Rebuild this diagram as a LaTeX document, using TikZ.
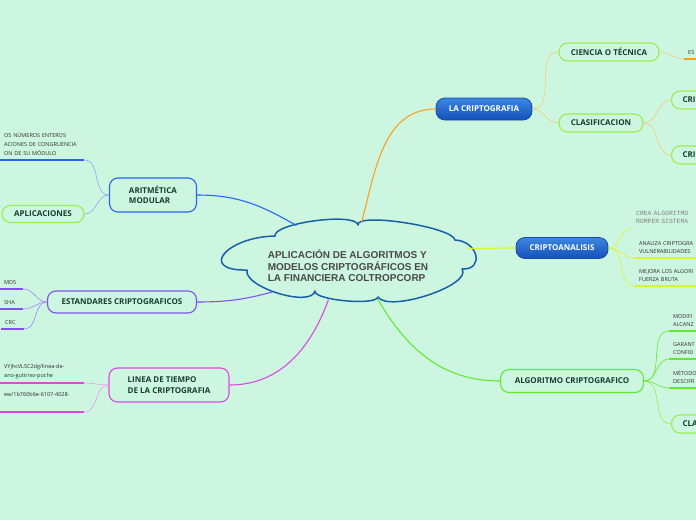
\documentclass[tikz,border=0pt]{standalone}
\usepackage{fontspec}
\setmainfont{Open Sans}
\newfontfamily\titlefont{Liberation Sans}
\newfontfamily\codefont{Liberation Mono}
\definecolor{MintBg}{RGB}{205,246,225}
\definecolor{CloudBlue}{RGB}{25,95,170}
\definecolor{TitleGray}{RGB}{72,72,72}
\definecolor{DeepTeal}{RGB}{18,62,48}
\definecolor{LeafText}{RGB}{45,45,45}
\definecolor{BlueTop}{RGB}{60,135,225}
\definecolor{BlueBottom}{RGB}{20,80,185}
\definecolor{BlueEdge}{RGB}{20,75,170}
\definecolor{LimeEdge}{RGB}{150,240,75}
\definecolor{CryptOrange}{RGB}{250,160,30}
\definecolor{PaleOrange}{RGB}{245,200,125}
\definecolor{AnaYellow}{RGB}{220,245,40}
\definecolor{AlgGreen}{RGB}{95,235,45}
\definecolor{ModBlue}{RGB}{40,100,245}
\definecolor{StdPurple}{RGB}{130,80,240}
\definecolor{TimeMagenta}{RGB}{225,70,225}
\usepackage{tikz}
\usetikzlibrary{shapes.geometric, positioning}

\begin{document}
\begin{tikzpicture}[x=1pt, y=-1pt,
	mainline/.style={line width=1.1pt},
	twig/.style={line width=0.6pt, out=0, in=180},
	twigback/.style={line width=0.6pt, out=180, in=0},
	uline/.style={line width=1.6pt},
	puffline/.style={draw=CloudBlue, line width=1.5pt, line join=round},
	topicbox/.style={draw, rounded corners=8.5pt, line width=1.1pt, fill=MintBg,
		text=DeepTeal, font=\fontsize{8}{10.5}\selectfont\bfseries, inner sep=0pt},
	bluebox/.style={draw=BlueEdge, rounded corners=9pt, line width=0.8pt,
		top color=BlueTop, bottom color=BlueBottom, text=white,
		font=\fontsize{8}{10}\selectfont\bfseries, inner sep=0pt},
	leaf/.style={anchor=south west, align=left, inner xsep=4pt, inner ysep=4pt,
		font=\fontsize{5.5}{8.5}\selectfont, text=LeafText}]
	\useasboundingbox (0,0) rectangle (696,520);
	\clip (0,0) rectangle (696,520);
	\fill[MintBg] (0,0) rectangle (696,520);

	\node[ellipse, minimum width=250, minimum height=78] (core) at (349,261) {};
	\path[puffline] (275,236) .. controls (273,223) and (356,212) .. (358,225)
		.. controls (356,212) and (453,227) .. (455,240)
		.. controls (478,241) and (485,270) .. (462,269)
		.. controls (473,285) and (389,313) .. (378,297)
		.. controls (376,306) and (313,300) .. (315,291)
		.. controls (311,308) and (243,287) .. (247,270)
		.. controls (198,271) and (226,237) .. cycle;
	\node[font=\titlefont\fontsize{10}{11.5}\selectfont\bfseries, text=TitleGray,
		align=left] (title) at (348,266)
		{APLICACIÓN DE ALGORITMOS Y\\MODELOS CRIPTOGRÁFICOS EN\\LA FINANCIERA COLTROPCORP};

	\node[bluebox, minimum width=96, minimum height=22] (crypt) at (484,109) {LA CRIPTOGRAFIA};
	\node[topicbox, draw=LimeEdge, minimum width=100, minimum height=18] (science) at (609,52) {CIENCIA O TÉCNICA};
	\node[topicbox, draw=LimeEdge, minimum width=84, minimum height=18] (classes) at (601,123) {CLASIFICACION};
	\node[topicbox, draw=LimeEdge, anchor=west, text width=50, align=left, inner xsep=11pt,
		minimum height=18] (symm) at (671,100) {CRI};
	\node[topicbox, draw=LimeEdge, anchor=west, text width=50, align=left, inner xsep=11pt,
		minimum height=18] (asym) at (671,155) {CRI};
	\node[leaf, text width=20] (isdef) at (684,59) {ES};

	\node[bluebox, minimum width=92, minimum height=21] (analysis) at (562,248) {CRIPTOANALISIS};
	\node[leaf, font=\codefont\fontsize{6.4}{8}\selectfont, text=gray, text width=70] (breaks) at (632,228)
		{CREA ALGORITMO\\ROMPER SISTEMA};
	\node[leaf, text width=70] (studies) at (635,258) {ANALIZA CRIPTOGRA\\VULNERABILIDADES};
	\node[leaf, text width=70] (improves) at (635,286) {MEJORA LOS ALGORI\\FUERZA BRUTA};

	\node[topicbox, draw=AlgGreen, minimum width=143, minimum height=23] (algo) at (572,381) {ALGORITMO CRIPTOGRAFICO};
	\node[leaf, text width=40] (modifies) at (669,331) {MODIFI\\ALCANZ};
	\node[leaf, text width=40] (assures) at (669,359) {GARANT\\CONFID};
	\node[leaf, text width=40] (method) at (669,388) {MÉTODO\\DESCIFR};
	\node[topicbox, draw=LimeEdge, anchor=west, text width=50, align=left, inner xsep=11pt,
		minimum height=18] (algclass) at (671,424) {CLA};

	\node[topicbox, draw=ModBlue, minimum width=87, minimum height=34, align=left] (arith) at (153,195)
		{ARITMÉTICA\\MODULAR};
	\node[leaf, text width=76, font=\fontsize{5.5}{9}\selectfont] (integers) at (0,160)
		{OS NÚMEROS ENTEROS\\ACIONES DE CONGRUENCIA\\ON DE SU MÓDULO};
	\node[topicbox, draw=LimeEdge, minimum width=82, minimum height=17] (uses) at (43,214) {APLICACIONES};

	\node[topicbox, draw=StdPurple, minimum width=149, minimum height=22] (standards) at (122,302)
		{ESTANDARES CRIPTOGRAFICOS};
	\node[leaf, text width=15] (md) at (0,289) {MD5};
	\node[leaf, text width=15] (sha) at (0,309) {SHA};
	\node[leaf, text width=15] (crc) at (1,329) {CRC};

	\node[topicbox, draw=TimeMagenta, minimum width=120, minimum height=34, align=left] (timeline) at (169,385)
		{LINEA DE TIEMPO\\DE LA CRIPTOGRAFIA};
	\node[leaf, text width=76] (linkone) at (0,383) {VYjhcVLSC2dg/linea-de-\\ano-gutirrez-poche};
	\node[leaf, text width=76] (linktwo) at (0,412) {ew/1b760b6e-6107-4028-\\\strut};

	\draw[mainline, CryptOrange] (core.72) to[out=75, in=180] (crypt.west);
	\draw[mainline, AnaYellow] (core.6) to[out=0, in=180] (analysis.west);
	\draw[mainline, AlgGreen] (core.307) to[out=-60, in=180] (algo.west);
	\draw[mainline, ModBlue] (arith.east) to[out=0, in=150] (core.146);
	\draw[mainline, StdPurple] (standards.east) to[out=0, in=195] (core.202);
	\draw[mainline, TimeMagenta] (timeline.east) to[out=0, in=250] (core.242);

	\draw[PaleOrange, twig] (crypt.east) to (science.west);
	\draw[PaleOrange, twig] (crypt.east) to (classes.west);
	\draw[PaleOrange, twig] (classes.east) to (symm.west);
	\draw[PaleOrange, twig] (classes.east) to (asym.west);
	\draw[PaleOrange, twig] (science.east) to (isdef.south west);
	\draw[uline, CryptOrange] (isdef.south west) -- (isdef.south east);

	\draw[AnaYellow, twig] (analysis.east) to (breaks.south west);
	\draw[AnaYellow, twig] (analysis.east) to (studies.south west);
	\draw[AnaYellow, twig] (analysis.east) to (improves.south west);
	\draw[uline, AnaYellow] (studies.south west) -- (studies.south east);
	\draw[uline, AnaYellow] (improves.south west) -- (improves.south east);

	\draw[AlgGreen, twig] (algo.east) to (modifies.south west);
	\draw[AlgGreen, twig] (algo.east) to (assures.south west);
	\draw[AlgGreen, twig] (algo.east) to (method.south west);
	\draw[LimeEdge, twig] (algo.east) to (algclass.west);
	\draw[uline, AlgGreen] (modifies.south west) -- (modifies.south east);
	\draw[uline, AlgGreen] (assures.south west) -- (assures.south east);
	\draw[uline, AlgGreen] (method.south west) -- (method.south east);

	\draw[ModBlue!55, twigback] (arith.west) to (integers.south east);
	\draw[ModBlue!55, twigback] (arith.west) to (uses.east);
	\draw[uline, ModBlue] (integers.south west) -- (integers.south east);

	\draw[StdPurple!70, twigback] (standards.west) to (md.south east);
	\draw[StdPurple!70, twigback] (standards.west) to (sha.south east);
	\draw[StdPurple!70, twigback] (standards.west) to (crc.south east);
	\draw[uline, StdPurple] (md.south west) -- (md.south east);
	\draw[uline, StdPurple] (sha.south west) -- (sha.south east);
	\draw[uline, StdPurple] (crc.south west) -- (crc.south east);

	\draw[TimeMagenta!55, twigback] (timeline.west) to (linkone.south east);
	\draw[TimeMagenta!55, twigback] (timeline.west) to (linktwo.south east);
	\draw[uline, TimeMagenta] (linkone.south west) -- (linkone.south east);
	\draw[uline, TimeMagenta] (linktwo.south west) -- (linktwo.south east);
\end{tikzpicture}
\end{document}
